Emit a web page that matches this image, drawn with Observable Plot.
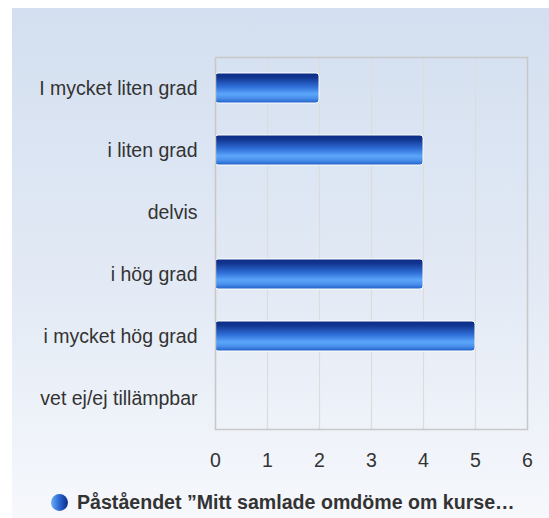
<!DOCTYPE html>
<html>
<head>
<meta charset="utf-8">
<script src="https://cdn.jsdelivr.net/npm/d3@7"></script>
<script src="https://cdn.jsdelivr.net/npm/@observablehq/plot@0.6"></script>
<style>
  html, body { margin: 0; padding: 0; background: #ffffff; }
  #wrap { position: relative; width: 549px; height: 518px; overflow: hidden; font-family: "Liberation Sans", Arial, Helvetica, sans-serif; }
  #panel { position: absolute; left: 12px; top: 8px; width: 537px; height: 510px;
           background: linear-gradient(to bottom, #d3dff0 0%, #e3eaf5 55%, #f6f8fc 100%); }
  #chart { position: absolute; left: 0; top: 0; }
  #legend { position: absolute; left: 0; top: 480px; width: 549px; height: 38px; }
  #legend .dot { position: absolute; left: 51px; top: 14px; width: 17px; height: 17px; border-radius: 50%;
                 background: linear-gradient(to right, #6aaef5 0%, #2a66d0 50%, #0a2a8a 100%); }
  #legend .txt { position: absolute; left: 77px; top: 11px; font-weight: bold; font-size: 19.6px; color: #333; white-space: nowrap; line-height: 22px; }
</style>
</head>
<body>
<div id="wrap">
  <div id="panel"></div>
  <div id="chart"></div>
  <div id="legend"><div class="dot"></div><div class="txt"></div></div>
</div>
<script>
const categories = ["I mycket liten grad", "i liten grad", "delvis", "i hög grad", "i mycket hög grad", "vet ej/ej tillämpbar"];
const values = [2, 4, 0, 4, 5, 0];
const xTicks = [0, 1, 2, 3, 4, 5, 6];
const seriesName = "Påståendet ”Mitt samlade omdöme om kurse…";

const data = categories.map((c, i) => ({category: c, value: values[i]}));

const chart = Plot.plot({
  width: 549,
  height: 480,
  marginLeft: 215,
  marginRight: 22,
  marginTop: 57,
  marginBottom: 51,
  style: {background: "transparent", fontFamily: "'Liberation Sans', Arial, Helvetica, sans-serif", fontSize: "19.5px", color: "#333"},
  x: {domain: [0, 6], ticks: xTicks, tickFormat: d3.format("d"), tickSize: 0, tickPadding: 24, label: null},
  y: {domain: categories, paddingInner: 0.516, paddingOuter: 0.258, tickSize: 0, tickPadding: 18, label: null},
  marks: [
    Plot.gridX(xTicks, {stroke: "#dcdcdc", strokeOpacity: 1, strokeWidth: 1.2}),
    Plot.barX(data, {filter: d => d.value > 0, x: "value", y: "category", fill: "url(#barGrad)", stroke: "#ffffff", strokeWidth: 1, rx: 3}),
    Plot.frame({stroke: "#c8c8c8", strokeWidth: 1.5}),
    Plot.axisX({ticks: xTicks, tickFormat: d3.format("d"), tickSize: 0, tickPadding: 24, fontSize: 19.5, fill: "#333"}),
    Plot.axisY({tickSize: 0, tickPadding: 18, fontSize: 19.5, fill: "#333"})
  ]
});

const svg = d3.select(chart);
const defs = svg.insert("defs", ":first-child");
const g = defs.append("linearGradient").attr("id", "barGrad").attr("x1", 0).attr("y1", 0).attr("x2", 0).attr("y2", 1);
[["0%", "#0a2a88"], ["15%", "#12368f"], ["45%", "#2e6cd6"], ["70%", "#5ba6fb"], ["84%", "#4a90ec"], ["100%", "#1f5fc8"]]
  .forEach(([o, c]) => g.append("stop").attr("offset", o).attr("stop-color", c));

document.getElementById("chart").appendChild(chart);
document.querySelector("#legend .txt").textContent = seriesName;
</script>
</body>
</html>
